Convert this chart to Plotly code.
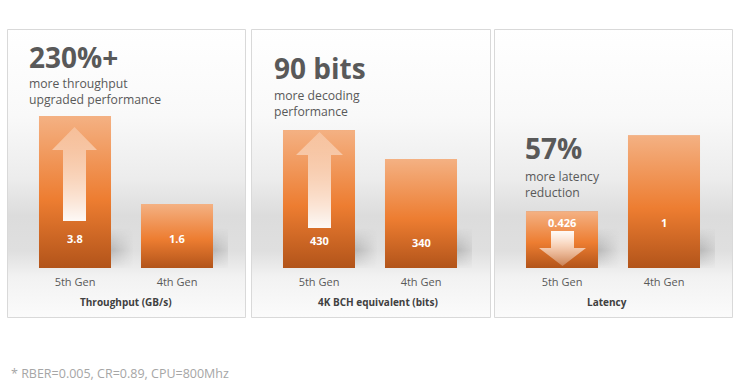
import base64
import plotly.graph_objects as go

# ---------------- data ----------------
categories = ["5th Gen", "4th Gen"]
throughput_gbs = [3.8, 1.6]
bch_bits = [430, 340]
latency = [0.426, 1]
axis_titles = ["Throughput (GB/s)", "4K BCH equivalent (bits)", "Latency"]
headlines = ["230%+", "90 bits", "57%"]
sublines = ["more throughput<br>upgraded performance",
            "more decoding<br>performance",
            "more latency<br>reduction"]
footnote = "* RBER=0.005, CR=0.89, CPU=800Mhz"

# ---------------- layout helpers ----------------
W, H = 743, 389
FONT = "Open Sans"
TXT = "#595959"


def px(x):
    return x / W


def py(y):
    return 1 - y / H


def svg_uri(svg):
    return "data:image/svg+xml;base64," + base64.b64encode(svg.encode()).decode()


BAR_SVG = svg_uri(
    '<svg xmlns="http://www.w3.org/2000/svg" width="100" height="100" viewBox="0 0 100 100" preserveAspectRatio="none">'
    '<defs><linearGradient id="g" x1="0" y1="0" x2="0" y2="1">'
    '<stop offset="0" stop-color="#F4B183"/><stop offset="0.55" stop-color="#ED7D31"/>'
    '<stop offset="1" stop-color="#B2541A"/></linearGradient></defs>'
    '<rect x="0" y="0" width="100" height="100" fill="url(#g)"/></svg>')

BG_SVG = svg_uri(
    '<svg xmlns="http://www.w3.org/2000/svg" width="100" height="100" viewBox="0 0 100 100" preserveAspectRatio="none">'
    '<defs><linearGradient id="g" x1="0" y1="0" x2="0" y2="1">'
    '<stop offset="0" stop-color="#ffffff"/><stop offset="0.30" stop-color="#f9f9f9"/>'
    '<stop offset="0.52" stop-color="#ececec"/><stop offset="0.65" stop-color="#dcdcdc"/>'
    '<stop offset="0.77" stop-color="#dfdfdf"/><stop offset="0.86" stop-color="#f2f2f2"/>'
    '<stop offset="1" stop-color="#fbfbfb"/></linearGradient></defs>'
    '<rect x="0" y="0" width="100" height="100" fill="url(#g)"/></svg>')

SHADOW_SVG = svg_uri(
    '<svg xmlns="http://www.w3.org/2000/svg" width="100" height="100" viewBox="0 0 100 100" preserveAspectRatio="none">'
    '<defs><linearGradient id="v" x1="0" y1="0" x2="0" y2="1">'
    '<stop offset="0" stop-color="#9a9a9a" stop-opacity="0"/>'
    '<stop offset="0.55" stop-color="#9a9a9a" stop-opacity="0.55"/>'
    '<stop offset="1" stop-color="#9a9a9a" stop-opacity="0.05"/></linearGradient>'
    '<linearGradient id="h" x1="0" y1="0" x2="1" y2="0">'
    '<stop offset="0" stop-color="#ffffff"/><stop offset="1" stop-color="#000000"/></linearGradient>'
    '<mask id="m"><rect x="0" y="0" width="100" height="100" fill="url(#h)"/></mask></defs>'
    '<rect x="0" y="0" width="100" height="100" fill="url(#v)" mask="url(#m)"/></svg>')


def arrow_svg(w, h, pts, grad_up):
    y1, y2 = ("1", "0") if grad_up else ("0", "1")
    poly = " ".join(f"{a},{b}" for a, b in pts)
    return svg_uri(
        f'<svg xmlns="http://www.w3.org/2000/svg" width="{w}" height="{h}" viewBox="0 0 {w} {h}" preserveAspectRatio="none">'
        f'<defs><linearGradient id="a" x1="0" y1="{y1}" x2="0" y2="{y2}">'
        '<stop offset="0" stop-color="#ffffff" stop-opacity="0.96"/>'
        '<stop offset="1" stop-color="#ffffff" stop-opacity="0.25"/></linearGradient></defs>'
        f'<polygon points="{poly}" fill="url(#a)"/></svg>')


panels = [
    dict(vals=throughput_gbs, ymax=6.0, box=(7, 245), xdom=(24, 228),
         head=(28, 37), sub=(28, 74), title_x=126, label_y=[238.5, 238.5]),
    dict(vals=bch_bits, ymax=748, box=(251, 490), xdom=(268, 472),
         head=(273, 48), sub=(273, 86), title_x=378, label_y=[240, 242]),
    dict(vals=latency, ymax=1.811, box=(494, 732), xdom=(511, 715),
         head=(524, 128), sub=(524, 167), title_x=607, label_y=[222, 222]),
]
BW = 0.706
BASE_Y = 268
TOP_Y = 28
PANEL_T, PANEL_B = 29, 317

fig = go.Figure()
images, shapes, annotations = [], [], []
layout_axes = {}

for k, p in enumerate(panels):
    sfx = "" if k == 0 else str(k + 1)
    xa, ya = "x" + sfx, "y" + sfx
    fig.add_trace(go.Bar(x=[0, 1], y=p["vals"], width=BW, xaxis=xa, yaxis=ya,
                         marker=dict(color="#ED7D31", line=dict(width=0)),
                         hoverinfo="skip", showlegend=False))
    layout_axes["xaxis" + sfx] = dict(
        domain=[px(p["xdom"][0]), px(p["xdom"][1])], range=[-0.5, 1.5],
        tickvals=[0, 1], ticktext=categories, showgrid=False, zeroline=False,
        showline=False, ticks="", ticklabelstandoff=6, anchor=ya, fixedrange=True,
        tickfont=dict(family=FONT, size=11, color=TXT))
    layout_axes["yaxis" + sfx] = dict(
        domain=[py(BASE_Y), py(TOP_Y)], range=[0, p["ymax"]], visible=False,
        anchor=xa, fixedrange=True)

    # panel background + border
    x0, x1 = p["box"]
    images.append(dict(source=BG_SVG, xref="paper", yref="paper", x=px(x0), y=py(PANEL_T),
                       sizex=(x1 - x0) / W, sizey=(PANEL_B - PANEL_T) / H,
                       xanchor="left", yanchor="top", sizing="stretch", layer="below"))
    shapes.append(dict(type="rect", xref="paper", yref="paper",
                       x0=px(x0 + 0.5), x1=px(x1 + 0.5), y0=py(PANEL_T + 0.5), y1=py(PANEL_B + 0.5),
                       line=dict(color="#d9d9d9", width=1), fillcolor="rgba(0,0,0,0)", layer="below"))

    for i, v in enumerate(p["vals"]):
        # floor shadow
        images.append(dict(source=SHADOW_SVG, xref=xa, yref="paper", x=i + BW / 2, y=py(228),
                           sizex=0.22, sizey=40 / H, xanchor="left", yanchor="top",
                           sizing="stretch", layer="below"))
        # gradient fill of the bar
        images.append(dict(source=BAR_SVG, xref=xa, yref=ya, x=i - BW / 2, y=v,
                           sizex=BW, sizey=v, xanchor="left", yanchor="top",
                           sizing="stretch", layer="above"))
        annotations.append(dict(text=f"{v:g}", xref=xa, yref="paper", x=i, y=py(p["label_y"][i]),
                                xanchor="center", yanchor="middle", showarrow=False,
                                font=dict(family=FONT, size=11, color="white", weight="bold")))

    annotations.append(dict(text=headlines[k], xref="paper", yref="paper", borderpad=0,
                            x=px(p["head"][0]), y=py(p["head"][1]), xanchor="left", yanchor="top",
                            showarrow=False, align="left",
                            font=dict(family=FONT, size=28, color=TXT, weight="bold")))
    annotations.append(dict(text=sublines[k], xref="paper", yref="paper", borderpad=0,
                            x=px(p["sub"][0]), y=py(p["sub"][1]), xanchor="left", yanchor="top",
                            showarrow=False, align="left",
                            font=dict(family=FONT, size=12.2, color=TXT)))
    annotations.append(dict(text=axis_titles[k], xref="paper", yref="paper",
                            x=px(p["title_x"]), y=py(301.5), xanchor="center", yanchor="middle",
                            showarrow=False, font=dict(family=FONT, size=10, color="#404040", weight="bold")))

# decorative arrows (pixel boxes)
arrows = [
    (52, 127, 45, 94, [(22.5, 0), (45, 23), (34, 23), (34, 94), (11, 94), (11, 23), (0, 23)], True),
    (296, 132, 47, 96, [(23.5, 0), (47, 23), (35, 23), (35, 96), (12, 96), (12, 23), (0, 23)], True),
    (539, 231, 47, 35, [(12, 0), (35, 0), (35, 17), (47, 17), (23.5, 35), (0, 17), (12, 17)], False),
]
for ax, ay, aw, ah, pts, up in arrows:
    images.append(dict(source=arrow_svg(aw, ah, pts, up), xref="paper", yref="paper",
                       x=px(ax), y=py(ay), sizex=aw / W, sizey=ah / H, xanchor="left",
                       yanchor="top", sizing="stretch", layer="above"))

annotations.append(dict(text=footnote, xref="paper", yref="paper", x=px(9), y=py(373),
                        xanchor="left", yanchor="middle", showarrow=False,
                        font=dict(family=FONT, size=12.5, color="#a6a6a6")))

fig.update_layout(width=W, height=H, margin=dict(l=0, r=0, t=0, b=0),
                  paper_bgcolor="white", plot_bgcolor="rgba(0,0,0,0)",
                  images=images, shapes=shapes, annotations=annotations,
                  showlegend=False, **layout_axes)

fig.write_html("out.html", config={"displayModeBar": False, "staticPlot": True},
               post_script="document.body.style.margin='0';document.body.style.overflow='hidden';")
